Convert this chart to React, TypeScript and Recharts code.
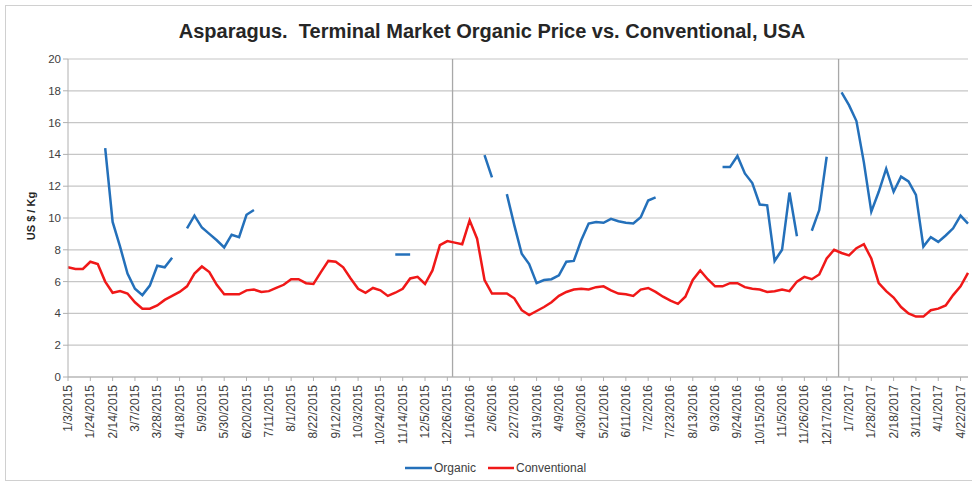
import React from "react";
import {
  LineChart,
  Line,
  XAxis,
  YAxis,
  CartesianGrid,
  ReferenceLine,
  Legend,
  Customized,
} from "recharts";

const tickLabels = [
  "1/3/2015", "1/24/2015", "2/14/2015", "3/7/2015", "3/28/2015", "4/18/2015",
  "5/9/2015", "5/30/2015", "6/20/2015", "7/11/2015", "8/1/2015", "8/22/2015",
  "9/12/2015", "10/3/2015", "10/24/2015", "11/14/2015", "12/5/2015", "12/26/2015",
  "1/16/2016", "2/6/2016", "2/27/2016", "3/19/2016", "4/9/2016", "4/30/2016",
  "5/21/2016", "6/11/2016", "7/2/2016", "7/23/2016", "8/13/2016", "9/3/2016",
  "9/24/2016", "10/15/2016", "11/5/2016", "11/26/2016", "12/17/2016", "1/7/2017",
  "1/28/2017", "2/18/2017", "3/11/2017", "4/1/2017", "4/22/2017",
];

// weekly values, week 0 = 1/3/2015 ... week 121 = 4/29/2017 (null = no quote)
const organic: (number | null)[] = [
  null, null, null, null, null, 14.4, 9.75, 8.2, 6.5, 5.55,
  5.15, 5.75, 7.0, 6.9, 7.5, null, 9.35, 10.15, 9.4, 9.0,
  8.6, 8.15, 8.95, 8.8, 10.2, 10.5, null, null, null, null,
  null, null, null, null, null, null, null, null, null, null,
  null, null, null, null, 7.7, 7.7, 7.7, null, null, null,
  null, null, null, null, null, null, 13.95, 12.55, null, 11.5,
  9.55, 7.75, 7.1, 5.9, 6.1, 6.15, 6.4, 7.25, 7.3, 8.6,
  9.65, 9.75, 9.7, 9.95, 9.8, 9.7, 9.65, 10.05, 11.1, 11.3,
  null, null, null, null, null, null, null, null, 13.2, 13.2,
  13.9, 12.8, 12.2, 10.85, 10.8, 7.3, 8.0, 11.6, 8.85, null,
  9.2, 10.5, 13.85, null, 17.9, 17.1, 16.1, 13.5, 10.4, 11.65,
  13.1, 11.65, 12.6, 12.3, 11.45, 8.2, 8.8, 8.5, 8.9, 9.35,
  10.15, 9.65,
];

const conventional: number[] = [
  6.9, 6.8, 6.8, 7.25, 7.1, 6.0, 5.3, 5.4, 5.25, 4.7,
  4.3, 4.3, 4.5, 4.85, 5.1, 5.35, 5.7, 6.5, 6.95, 6.6,
  5.8, 5.2, 5.2, 5.2, 5.45, 5.5, 5.35, 5.4, 5.6, 5.8,
  6.15, 6.15, 5.9, 5.85, 6.6, 7.3, 7.25, 6.9, 6.2, 5.55,
  5.3, 5.6, 5.45, 5.1, 5.3, 5.55, 6.2, 6.3, 5.85, 6.7,
  8.3, 8.55, 8.45, 8.35, 9.85, 8.7, 6.1, 5.25, 5.25, 5.25,
  4.95, 4.2, 3.9, 4.15, 4.4, 4.7, 5.1, 5.35, 5.5, 5.55,
  5.5, 5.65, 5.7, 5.45, 5.25, 5.2, 5.1, 5.5, 5.6, 5.35,
  5.05, 4.8, 4.6, 5.05, 6.1, 6.7, 6.15, 5.7, 5.7, 5.9,
  5.9, 5.65, 5.55, 5.5, 5.35, 5.4, 5.5, 5.4, 6.0, 6.3,
  6.15, 6.45, 7.45, 8.0, 7.8, 7.65, 8.1, 8.35, 7.45, 5.9,
  5.4, 5.0, 4.4, 4.0, 3.8, 3.8, 4.2, 4.3, 4.5, 5.15,
  5.7, 6.55,
];

const yTicks = [0, 2, 4, 6, 8, 10, 12, 14, 16, 18, 20];
const yearBreaks = [51.7, 103.6];

const data = conventional.map((c, i) => ({
  i,
  organic: organic[i],
  conventional: c,
}));
const xTicks = tickLabels.map((_, k) => k * 3);

const BLUE = "#2470BA";
const RED = "#F01818";
const FONT = "'Liberation Sans', Arial, sans-serif";

const XTick = (props: any) => {
  const { x, y, payload } = props;
  const label = tickLabels[Math.round(payload.value / 3)];
  return (
    <text
      transform={`translate(${x},${y + 2}) rotate(-90)`}
      textAnchor="end"
      dominantBaseline="central"
      fontSize={12}
      fontFamily={FONT}
      fill="#404040"
    >
      {label}
    </text>
  );
};

const LegendContent = () => (
  <svg width={972} height={24}>
    <line x1={405} x2={432} y1={12} y2={12} stroke={BLUE} strokeWidth={2.5} />
    <text x={434} y={12} dominantBaseline="central" fontSize={12} fontFamily={FONT} fill="#404040">
      Organic
    </text>
    <line x1={488} x2={514} y1={12} y2={12} stroke={RED} strokeWidth={2.5} />
    <text x={516} y={12} dominantBaseline="central" fontSize={12} fontFamily={FONT} fill="#404040">
      Conventional
    </text>
  </svg>
);

const Title = () => (
  <text
    x={492}
    y={31}
    textAnchor="middle"
    dominantBaseline="central"
    fontSize={20}
    fontWeight="bold"
    fontFamily={FONT}
    fill="#262626"
    style={{ whiteSpace: "pre" }}
    xmlSpace="preserve"
  >
    {"Asparagus.\u00A0 Terminal Market Organic Price vs. Conventional, USA"}
  </text>
);

const YLabel = () => (
  <text
    transform="translate(31,216) rotate(-90)"
    textAnchor="middle"
    dominantBaseline="central"
    fontSize={11}
    fontWeight="bold"
    fontFamily={FONT}
    fill="#262626"
  >
    US $ / Kg
  </text>
);

export default function App() {
  return (
    <div
      style={{
        position: "absolute",
        left: 0,
        top: 0,
        width: 972,
        height: 484,
        overflow: "hidden",
        background: "#fff",
      }}
    >
      <div
        style={{
          position: "absolute",
          left: 5,
          top: 5,
          width: 980,
          height: 476,
          border: "1px solid #d0d0d0",
          boxSizing: "border-box",
        }}
      />
      <div style={{ position: "absolute", left: 0, top: 0 }}>
        <LineChart
          width={972}
          height={484}
          data={data}
          margin={{ top: 59, right: 4, bottom: 3, left: 0 }}
        >
          <CartesianGrid vertical={false} stroke="#c6c6c6" strokeWidth={1.2} />
          <XAxis
            type="number"
            dataKey="i"
            domain={[0, 121]}
            ticks={xTicks}
            interval={0}
            height={80}
            tick={<XTick />}
            tickSize={4}
            tickLine={{ stroke: "#b0b0b0" }}
            axisLine={{ stroke: "#b0b0b0" }}
            allowDecimals={false}
          />
          <YAxis
            domain={[0, 20]}
            ticks={yTicks}
            width={68}
            tickSize={5}
            tick={{ fontSize: 11.5, fill: "#404040", fontFamily: FONT }}
            tickLine={{ stroke: "#b0b0b0" }}
            axisLine={{ stroke: "#b0b0b0" }}
            interval={0}
          />
          {yearBreaks.map((b) => (
            <ReferenceLine key={b} x={b} stroke="#a8a8a8" strokeWidth={1.3} />
          ))}
          <Line
            type="linear"
            dataKey="organic"
            stroke={BLUE}
            strokeWidth={2.5}
            dot={false}
            connectNulls={false}
            isAnimationActive={false}
          />
          <Line
            type="linear"
            dataKey="conventional"
            stroke={RED}
            strokeWidth={2.5}
            dot={false}
            isAnimationActive={false}
          />
          <Legend
            layout="vertical"
            verticalAlign="bottom"
            align="center"
            wrapperStyle={{ position: "absolute", left: 0, top: 456, width: 972, height: 24 }}
            content={<LegendContent />}
          />
          <Customized component={<Title />} />
          <Customized component={<YLabel />} />
        </LineChart>
      </div>
    </div>
  );
}
